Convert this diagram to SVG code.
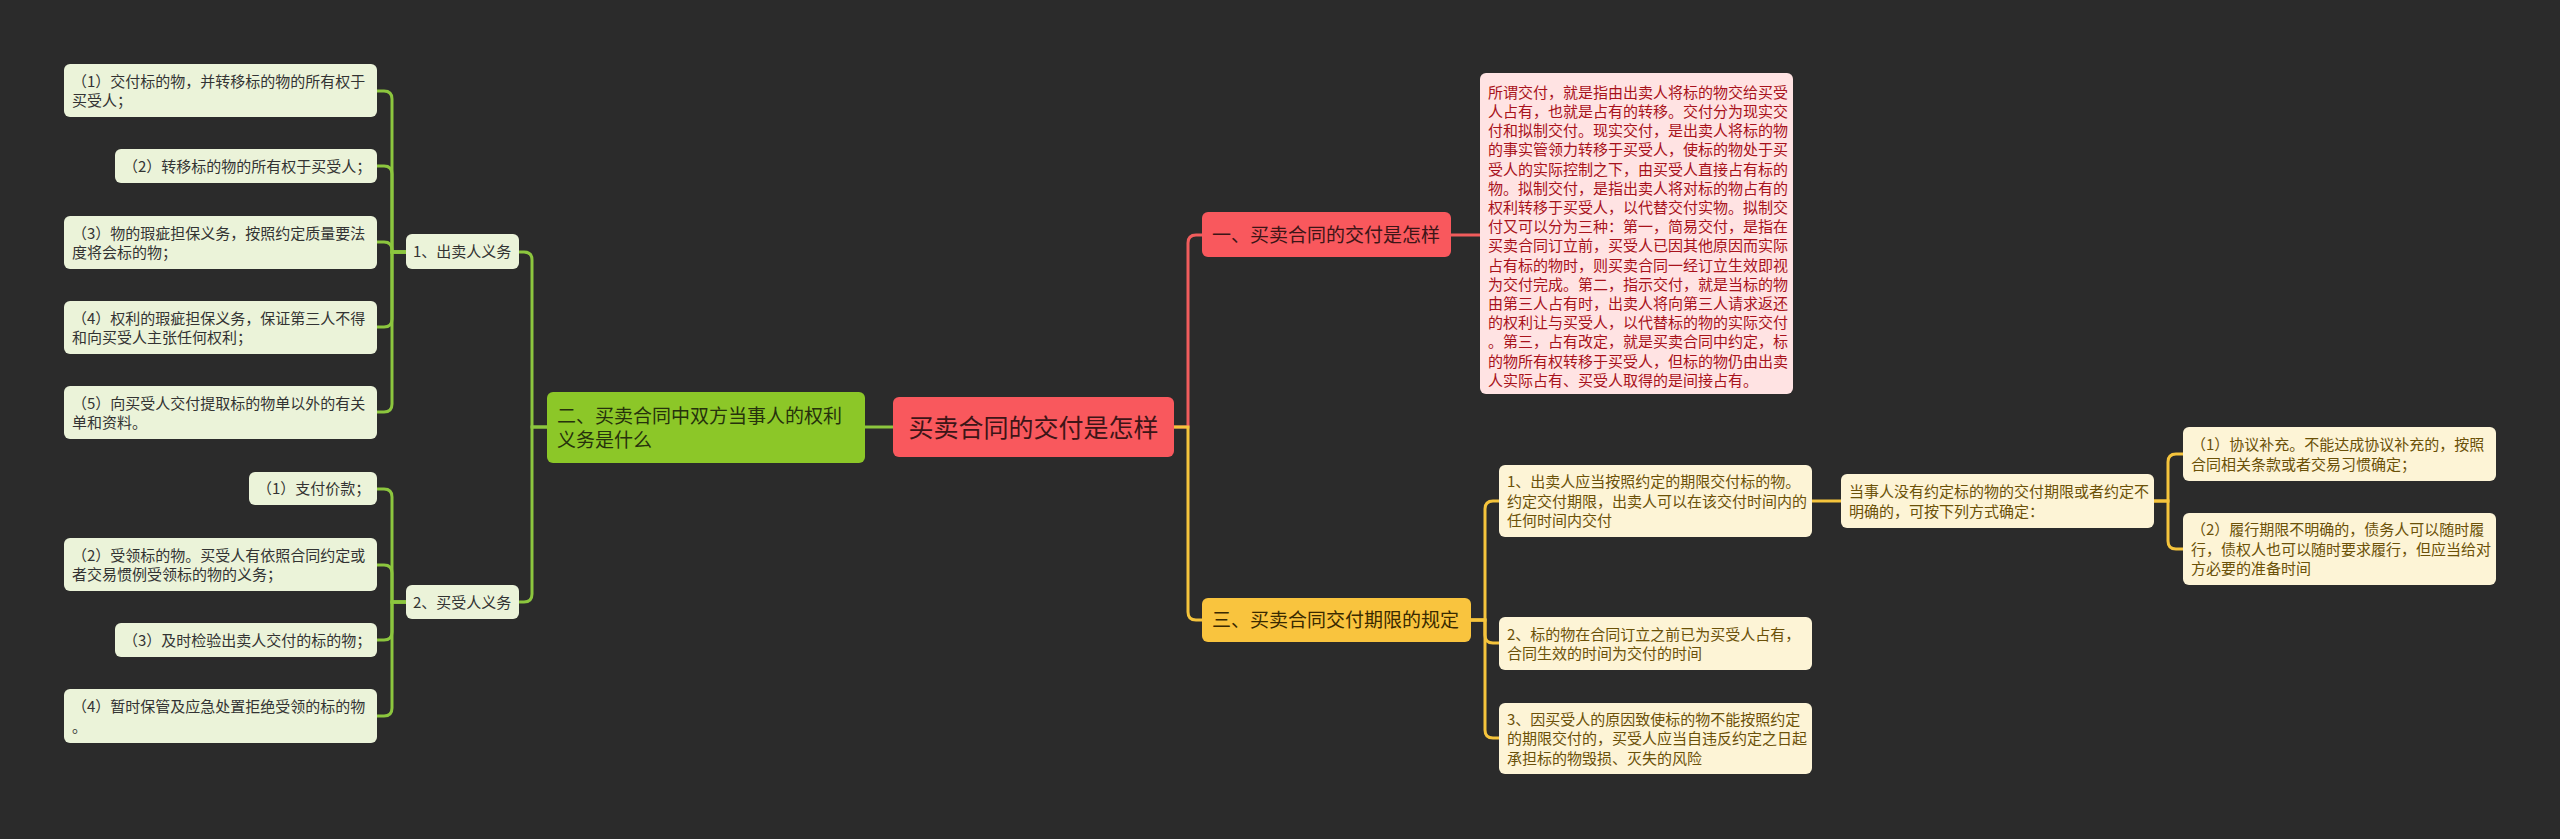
<svg xmlns="http://www.w3.org/2000/svg" width="2560" height="839" viewBox="0 0 2560 839">
<style>
text{font-family:"Noto Sans CJK SC","Noto Sans",sans-serif;}
.lg{fill:#ebf3d9;}
.lgt{font-size:15px;fill:#333333;}
.gn{fill:#8cc728;}
.gnt{font-size:19px;fill:#26320c;}
.rd{fill:#f9585d;}
.rdt{font-size:19px;fill:#3d1517;}
.ctt{font-size:25px;fill:#3d1517;}
.rb{fill:#ffe3e3;}
.rbt{font-size:15px;fill:#a8121b;}
.yn{fill:#f9c43e;}
.ynt{font-size:19px;fill:#3a2a00;}
.yl{fill:#fdf4d6;}
.ylt{font-size:15px;fill:#6b5108;}
.cg{fill:none;stroke:#8cc63e;stroke-width:3;}
.cr{fill:none;stroke:#f05c5c;stroke-width:3;}
.cy{fill:none;stroke:#f5c43c;stroke-width:3;}
</style>
<rect x="0" y="0" width="2560" height="839" fill="#2b2b2b"/>
<g id="connectors">
<path class="cg" d="M893 427 H865"/>
<path class="cg" d="M547 427 H532 V260 Q532 252 524 252 H518"/>
<path class="cg" d="M547 427 H532 V594 Q532 602 524 602 H518"/>
<path class="cg" d="M406 252 H392 V99 Q392 91 384 91 H377"/>
<path class="cg" d="M406 252 H392 V174 Q392 166 384 166 H377"/>
<path class="cg" d="M406 252 H392 V250 Q392 242 384 242 H377"/>
<path class="cg" d="M406 252 H392 V319 Q392 327 384 327 H377"/>
<path class="cg" d="M406 252 H392 V404 Q392 412 384 412 H377"/>
<path class="cg" d="M406 602 H392 V497 Q392 489 384 489 H377"/>
<path class="cg" d="M406 602 H392 V573 Q392 565 384 565 H377"/>
<path class="cg" d="M406 602 H392 V632 Q392 640 384 640 H377"/>
<path class="cg" d="M406 602 H392 V708 Q392 716 384 716 H377"/>
<path class="cr" d="M1174 427 H1188 V243 Q1188 235 1196 235 H1202"/>
<path class="cy" d="M1174 427 H1188 V612 Q1188 620 1196 620 H1202"/>
<path class="cr" d="M1451 235 H1480"/>
<path class="cy" d="M1471 620 H1485 V509 Q1485 501 1493 501 H1499"/>
<path class="cy" d="M1471 620 H1485 V635 Q1485 643 1493 643 H1499"/>
<path class="cy" d="M1471 620 H1485 V730 Q1485 738 1493 738 H1499"/>
<path class="cy" d="M1812 501 H1841"/>
<path class="cy" d="M2154 501 H2168 V462 Q2168 454 2176 454 H2183"/>
<path class="cy" d="M2154 501 H2168 V541 Q2168 549 2176 549 H2183"/>
</g>
<g id="root">
<rect class="rd" x="893" y="397" width="281" height="60" rx="6"/>
<text class="ctt" x="1033.5" y="436.5" text-anchor="middle">买卖合同的交付是怎样</text>
</g>
<g id="n2">
<rect class="gn" x="547" y="392" width="318" height="71" rx="6"/>
<text class="gnt" x="557" y="422.7">二、买卖合同中双方当事人的权利</text>
<text class="gnt" x="557" y="446.7">义务是什么</text>
</g>
<g id="s1">
<rect class="lg" x="406" y="234" width="113" height="35" rx="6"/>
<text class="lgt" x="413" y="257.2">1、出卖人义务</text>
</g>
<g id="s2">
<rect class="lg" x="406" y="585" width="113" height="34" rx="6"/>
<text class="lgt" x="413" y="607.7">2、买受人义务</text>
</g>
<g id="l1">
<rect class="lg" x="64" y="64" width="313" height="53" rx="6"/>
<text class="lgt" x="72" y="86.5">（1）交付标的物，并转移标的物的所有权于</text>
<text class="lgt" x="72" y="106">买受人；</text>
</g>
<g id="l2">
<rect class="lg" x="115" y="149" width="262" height="34" rx="6"/>
<text class="lgt" x="123" y="171.7">（2）转移标的物的所有权于买受人；</text>
</g>
<g id="l3">
<rect class="lg" x="64" y="216" width="313" height="53" rx="6"/>
<text class="lgt" x="72" y="238.5">（3）物的瑕疵担保义务，按照约定质量要法</text>
<text class="lgt" x="72" y="258">度将会标的物；</text>
</g>
<g id="l4">
<rect class="lg" x="64" y="301" width="313" height="53" rx="6"/>
<text class="lgt" x="72" y="323.5">（4）权利的瑕疵担保义务，保证第三人不得</text>
<text class="lgt" x="72" y="343">和向买受人主张任何权利；</text>
</g>
<g id="l5">
<rect class="lg" x="64" y="386" width="313" height="53" rx="6"/>
<text class="lgt" x="72" y="408.5">（5）向买受人交付提取标的物单以外的有关</text>
<text class="lgt" x="72" y="428">单和资料。</text>
</g>
<g id="b1">
<rect class="lg" x="249" y="472" width="128" height="33" rx="6"/>
<text class="lgt" x="257" y="494.2">（1）支付价款；</text>
</g>
<g id="b2">
<rect class="lg" x="64" y="538" width="313" height="53" rx="6"/>
<text class="lgt" x="72" y="560.5">（2）受领标的物。买受人有依照合同约定或</text>
<text class="lgt" x="72" y="580">者交易惯例受领标的物的义务；</text>
</g>
<g id="b3">
<rect class="lg" x="115" y="623" width="262" height="34" rx="6"/>
<text class="lgt" x="123" y="645.7">（3）及时检验出卖人交付的标的物；</text>
</g>
<g id="b4">
<rect class="lg" x="64" y="689" width="313" height="54" rx="6"/>
<text class="lgt" x="72" y="712">（4）暂时保管及应急处置拒绝受领的标的物</text>
<text class="lgt" x="72" y="731.5">。</text>
</g>
<g id="n1">
<rect class="rd" x="1202" y="212" width="249" height="45" rx="6"/>
<text class="rdt" x="1212" y="242.2">一、买卖合同的交付是怎样</text>
</g>
<g id="n1text">
<rect class="rb" x="1480" y="73" width="313" height="321" rx="6"/>
<text class="rbt" x="1488" y="97.7">所谓交付，就是指由出卖人将标的物交给买受</text>
<text class="rbt" x="1488" y="116.9">人占有，也就是占有的转移。交付分为现实交</text>
<text class="rbt" x="1488" y="136.1">付和拟制交付。现实交付，是出卖人将标的物</text>
<text class="rbt" x="1488" y="155.3">的事实管领力转移于买受人，使标的物处于买</text>
<text class="rbt" x="1488" y="174.5">受人的实际控制之下，由买受人直接占有标的</text>
<text class="rbt" x="1488" y="193.7">物。拟制交付，是指出卖人将对标的物占有的</text>
<text class="rbt" x="1488" y="212.9">权利转移于买受人，以代替交付实物。拟制交</text>
<text class="rbt" x="1488" y="232.1">付又可以分为三种：第一，简易交付，是指在</text>
<text class="rbt" x="1488" y="251.3">买卖合同订立前，买受人已因其他原因而实际</text>
<text class="rbt" x="1488" y="270.5">占有标的物时，则买卖合同一经订立生效即视</text>
<text class="rbt" x="1488" y="289.7">为交付完成。第二，指示交付，就是当标的物</text>
<text class="rbt" x="1488" y="308.9">由第三人占有时，出卖人将向第三人请求返还</text>
<text class="rbt" x="1488" y="328.1">的权利让与买受人，以代替标的物的实际交付</text>
<text class="rbt" x="1488" y="347.3">。第三，占有改定，就是买卖合同中约定，标</text>
<text class="rbt" x="1488" y="366.5">的物所有权转移于买受人，但标的物仍由出卖</text>
<text class="rbt" x="1488" y="385.7">人实际占有、买受人取得的是间接占有。</text>
</g>
<g id="n3">
<rect class="yn" x="1202" y="598" width="269" height="44" rx="6"/>
<text class="ynt" x="1212" y="627.2">三、买卖合同交付期限的规定</text>
</g>
<g id="y1">
<rect class="yl" x="1499" y="465" width="313" height="72" rx="6"/>
<text class="ylt" x="1507" y="487.2">1、出卖人应当按照约定的期限交付标的物。</text>
<text class="ylt" x="1507" y="506.7">约定交付期限，出卖人可以在该交付时间内的</text>
<text class="ylt" x="1507" y="526.2">任何时间内交付</text>
</g>
<g id="y2">
<rect class="yl" x="1499" y="617" width="313" height="53" rx="6"/>
<text class="ylt" x="1507" y="639.5">2、标的物在合同订立之前已为买受人占有，</text>
<text class="ylt" x="1507" y="659">合同生效的时间为交付的时间</text>
</g>
<g id="y3">
<rect class="yl" x="1499" y="703" width="313" height="71" rx="6"/>
<text class="ylt" x="1507" y="724.7">3、因买受人的原因致使标的物不能按照约定</text>
<text class="ylt" x="1507" y="744.2">的期限交付的，买受人应当自违反约定之日起</text>
<text class="ylt" x="1507" y="763.7">承担标的物毁损、灭失的风险</text>
</g>
<g id="d">
<rect class="yl" x="1841" y="474" width="313" height="54" rx="6"/>
<text class="ylt" x="1849" y="497">当事人没有约定标的物的交付期限或者约定不</text>
<text class="ylt" x="1849" y="516.5">明确的，可按下列方式确定：</text>
</g>
<g id="d1">
<rect class="yl" x="2183" y="427" width="313" height="54" rx="6"/>
<text class="ylt" x="2191" y="450">（1）协议补充。不能达成协议补充的，按照</text>
<text class="ylt" x="2191" y="469.5">合同相关条款或者交易习惯确定；</text>
</g>
<g id="d2">
<rect class="yl" x="2183" y="513" width="313" height="72" rx="6"/>
<text class="ylt" x="2191" y="535.2">（2）履行期限不明确的，债务人可以随时履</text>
<text class="ylt" x="2191" y="554.7">行，债权人也可以随时要求履行，但应当给对</text>
<text class="ylt" x="2191" y="574.2">方必要的准备时间</text>
</g>
</svg>
